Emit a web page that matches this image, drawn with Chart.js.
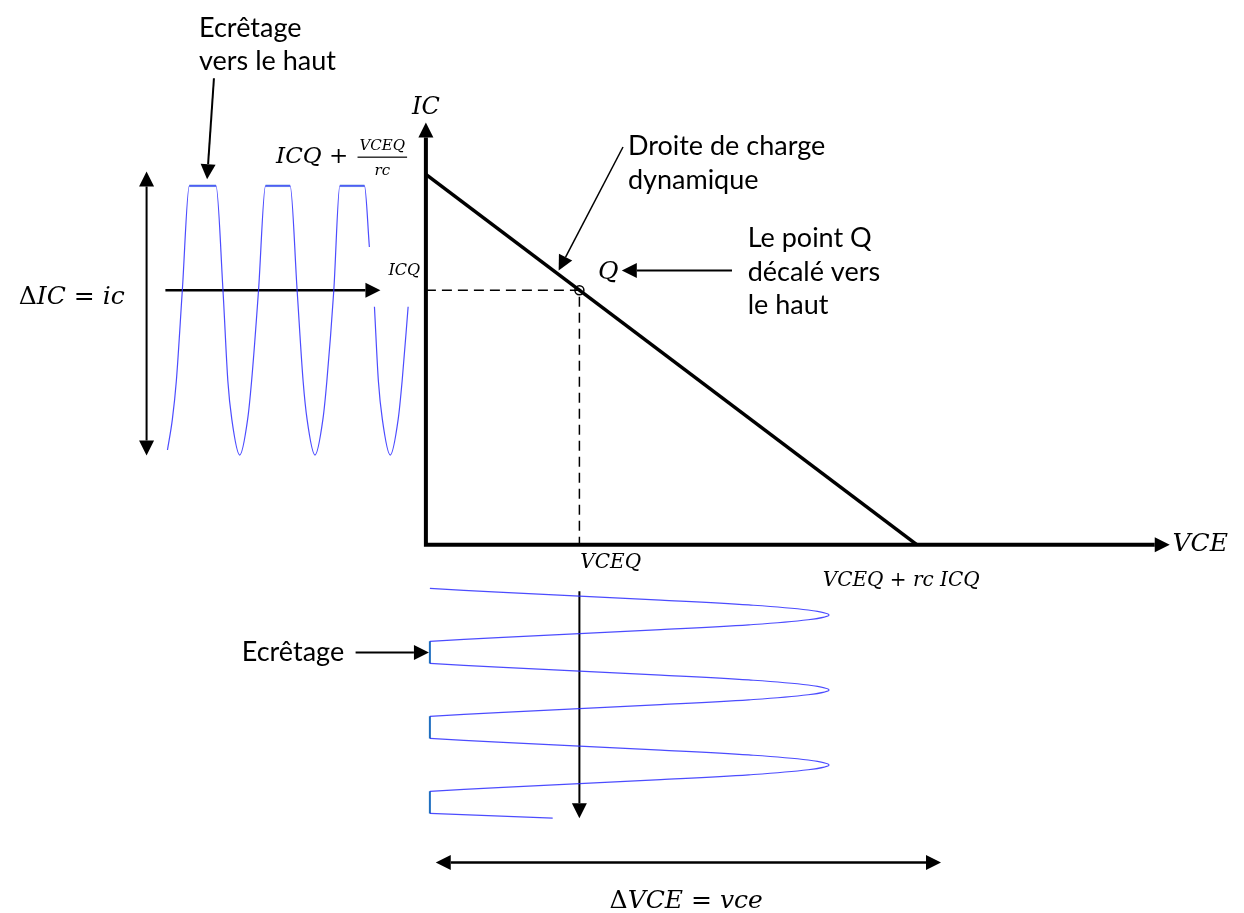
<!DOCTYPE html>
<html lang="fr">
<head>
<meta charset="utf-8">
<title>Droite de charge dynamique</title>
<script src="https://cdn.jsdelivr.net/npm/chart.js@4.4.1/dist/chart.umd.min.js"></script>
<style>
  body { margin: 0; background: #fff; }
  #cadre { width: 1244px; height: 913px; position: relative; }
</style>
</head>
<body>
<div id="cadre"><canvas id="graphe"></canvas></div>
<script>
// Point de repos et droite de charge dynamique (VCE en V, IC en mA, rc = 2,75 kOhm)
var VCEQ = 5;
var ICQ = 4;
var droiteVCE = [0, 16];      // VCEQ + rc ICQ
var droiteIC = [5.82, 0];     // ICQ + VCEQ / rc

// Courant IC en fonction du temps : écrêtage vers le haut
var tempsIC = [0.16, 0.42, 0.63, 0.95, 1.32, 2.74, 3.11, 3.37, 3.58, 4.0, 4.42, 4.63, 5.0, 5.37, 6.68, 7.05, 7.37, 7.58, 8.0, 8.42, 8.63, 9.0, 9.32, 10.63, 10.89];
var valeursIC = [1.49, 1.97, 2.57, 4.0, 5.64, 5.64, 4.0, 2.57, 1.97, 1.41, 1.97, 2.57, 4.0, 5.64, 5.64, 4.0, 2.57, 1.97, 1.41, 1.97, 2.57, 4.0, 5.64, 5.64, 4.68];
var tempsIC2 = [11.16, 11.37, 11.58, 12.0, 12.42, 12.63, 12.95];
var valeursIC2 = [3.74, 2.57, 1.97, 1.41, 1.97, 2.57, 3.74];
var paliersIC = [[1.32, 2.74], [5.37, 6.68], [9.32, 10.63]];
var niveauPalierIC = 5.64;

// Tension VCE en fonction du temps : écrêtage en bas
var vceBalayage = [0.13, 2.35, 5.0, 7.65, 10.52, 12.45, 13.13, 12.45, 10.52, 7.65, 5.0, 2.35, 0.13];
var tempsVCE1 = [-0.41, -0.21, 0, 0.21, 0.47, 0.74, 1, 1.26, 1.53, 1.79, 2, 2.21, 2.41];
var tempsVCE2 = [3.59, 3.79, 4, 4.21, 4.47, 4.74, 5, 5.26, 5.53, 5.79, 6, 6.21, 6.41];
var tempsVCE3 = [7.59, 7.79, 8, 8.21, 8.47, 8.74, 9, 9.26, 9.53, 9.79, 10, 10.21, 10.41];
var vceFin = [0.13, 4.13];
var tempsFin = [11.59, 11.84];
var paliersVCE = [[2.41, 3.59], [6.41, 7.59], [10.41, 11.59]];
var niveauPalierVCE = 0.13;

var math = '"DejaVu Serif", serif';
var sans = 'Lato, "Open Sans", sans-serif';

function points(xs, ys) {
  return xs.map(function (x, i) { return {x: x, y: ys[i]}; });
}

function trait(data, extra) {
  var ds = {
    data: data,
    showLine: true,
    borderColor: '#000',
    borderWidth: 2,
    pointRadius: 0,
    tension: 0,
    xAxisID: 'x',
    yAxisID: 'y'
  };
  for (var k in extra) ds[k] = extra[k];
  return ds;
}

var bleu = 'rgba(45,45,255,0.85)';
var datasets = [];

// axes IC et VCE
datasets.push(trait([{x: 0, y: 6.40}, {x: 0, y: 0}, {x: 23.74, y: 0}],
  {borderWidth: 4, borderJoinStyle: 'miter', fleche: {debut: true, fin: true}}));
// droite de charge
datasets.push(trait(points(droiteVCE, droiteIC), {borderWidth: 3.5}));
// pointillés du point Q
datasets.push(trait([{x: 0, y: ICQ}, {x: VCEQ, y: ICQ}, {x: VCEQ, y: 0}],
  {borderWidth: 1.5, borderDash: [10, 6]}));
// point Q
datasets.push({
  data: [{x: VCEQ, y: ICQ}], showLine: false, pointRadius: 4.5,
  pointBackgroundColor: '#fff', pointBorderColor: '#000', pointBorderWidth: 1.5,
  xAxisID: 'x', yAxisID: 'y'
});

// onde IC(t)
datasets.push(trait(points(tempsIC, valeursIC), {borderColor: bleu, borderWidth: 1.2, cubicInterpolationMode: 'monotone', xAxisID: 'xt'}));
datasets.push(trait(points(tempsIC2, valeursIC2), {borderColor: bleu, borderWidth: 1.2, cubicInterpolationMode: 'monotone', xAxisID: 'xt'}));
paliersIC.forEach(function (p) {
  datasets.push(trait(points(p, [niveauPalierIC, niveauPalierIC]), {borderColor: '#8db4e2', borderWidth: 2.5, xAxisID: 'xt'}));
});

// onde VCE(t)
[tempsVCE1, tempsVCE2, tempsVCE3].forEach(function (t) {
  datasets.push(trait(points(vceBalayage, t), {borderColor: bleu, borderWidth: 1.2, tension: 0.35, yAxisID: 'yt'}));
});
datasets.push(trait(points(vceFin, tempsFin), {borderColor: bleu, borderWidth: 1.2, yAxisID: 'yt'}));
paliersVCE.forEach(function (p) {
  datasets.push(trait(points([niveauPalierVCE, niveauPalierVCE], p), {borderColor: '#1f6fc0', borderWidth: 2, yAxisID: 'yt'}));
});

// flèches
datasets.push(trait([{x: -0.95, y: 5.63}, {x: -0.95, y: 1.64}], {xAxisID: 'xt', fleche: {debut: true, fin: true}}));
datasets.push(trait([{x: 0.05, y: ICQ}, {x: 10.68, y: ICQ}], {xAxisID: 'xt', borderWidth: 2.5, fleche: {fin: true}}));
datasets.push(trait([{x: 2.63, y: 7.33}, {x: 2.32, y: 5.98}], {xAxisID: 'xt', fleche: {fin: true}}));
datasets.push(trait([{x: 6.42, y: 6.25}, {x: 4.55, y: 4.52}], {borderWidth: 1.5, fleche: {fin: true}}));
datasets.push(trait([{x: 9.97, y: 4.31}, {x: 6.87, y: 4.31}], {fleche: {fin: true}}));
datasets.push(trait([{x: VCEQ, y: -0.26}, {x: VCEQ, y: 11.05}], {yAxisID: 'yt', fleche: {fin: true}}));
datasets.push(trait([{x: -2.29, y: 3.0}, {x: -0.39, y: 3.0}], {yAxisID: 'yt', fleche: {fin: true}}));
datasets.push(trait([{x: 0.81, y: 14.21}, {x: 16.29, y: 14.21}], {yAxisID: 'yt', borderWidth: 2.5, fleche: {debut: true, fin: true}}));

// textes (chaque entrée : morceaux [texte, police])
var it = function (s) { return 'italic ' + s + 'px ' + math; };
var dr = function (s) { return s + 'px ' + math; };
var sa = function (s) { return s + 'px ' + sans; };
var textes = [
  {p: [['Ecrêtage', sa(27)]], x: -7.39, y: 8.12},
  {p: [['vers le haut', sa(27)]], x: -7.39, y: 7.60},
  {p: [['IC', it(24)]], x: 0, y: 6.87, align: 'center'},
  {p: [['ICQ', it(16)]], x: -0.19, y: 4.31, align: 'right'},
  {p: [['Q', it(25)]], x: 5.94, y: 4.28, align: 'center'},
  {p: [['Droite de charge', sa(27)]], x: 6.58, y: 6.26},
  {p: [['dynamique', sa(27)]], x: 6.58, y: 5.72},
  {p: [['Le point Q', sa(27)]], x: 10.48, y: 4.81},
  {p: [['décalé vers', sa(27)]], x: 10.48, y: 4.28},
  {p: [['le haut', sa(27)]], x: 10.48, y: 3.77},
  {p: [['VCE', it(25)]], x: 24.32, y: 0},
  {p: [['VCEQ', it(20)]], x: 5.03, y: -0.29},
  {p: [['VCEQ + rc ICQ', it(20)]], x: 15.48, y: -0.57, align: 'center'},
  {p: [['Δ', dr(25)], ['IC = ic', it(25)]], x: -13.26, y: 3.89},
  {p: [['Ecrêtage', sa(27)]], x: -6.0, y: 3.0, ys: 'yt'},
  {p: [['Δ', dr(25)], ['VCE = vce', it(25)]], x: 8.48, y: 16.26, ys: 'yt', align: 'center'}
];
var fraction = {avant: 'ICQ + ', haut: 'VCEQ', bas: 'rc', x: -1.42, y: 6.09};

function tete(ctx, a, b, L, W) {
  var ang = Math.atan2(b.y - a.y, b.x - a.x);
  ctx.save();
  ctx.translate(b.x, b.y);
  ctx.rotate(ang);
  ctx.beginPath();
  ctx.moveTo(L, 0);
  ctx.lineTo(0, -W);
  ctx.lineTo(0, W);
  ctx.closePath();
  ctx.fillStyle = '#000';
  ctx.fill();
  ctx.restore();
}

var pluginFleches = {
  id: 'fleches',
  afterDatasetsDraw: function (chart) {
    var ctx = chart.ctx;
    chart.data.datasets.forEach(function (ds, i) {
      if (!ds.fleche) return;
      var pts = chart.getDatasetMeta(i).data;
      var n = pts.length;
      if (ds.fleche.fin) tete(ctx, pts[n - 2], pts[n - 1], 15, 7.5);
      if (ds.fleche.debut) tete(ctx, pts[1], pts[0], 15, 7.5);
    });
  }
};

var pluginTextes = {
  id: 'textes',
  afterDraw: function (chart) {
    var ctx = chart.ctx;
    ctx.save();
    ctx.fillStyle = '#000';
    ctx.textBaseline = 'middle';
    ctx.textAlign = 'left';
    textes.forEach(function (e) {
      var px = chart.scales[e.xs || 'x'].getPixelForValue(e.x);
      var py = chart.scales[e.ys || 'y'].getPixelForValue(e.y);
      var total = 0;
      e.p.forEach(function (m) { ctx.font = m[1]; total += ctx.measureText(m[0]).width; });
      if (e.align === 'center') px -= total / 2;
      if (e.align === 'right') px -= total;
      e.p.forEach(function (m) {
        ctx.font = m[1];
        ctx.fillText(m[0], px, py);
        px += ctx.measureText(m[0]).width;
      });
    });
    // ICQ + VCEQ / rc
    var cx = chart.scales.x.getPixelForValue(fraction.x);
    var cy = chart.scales.y.getPixelForValue(fraction.y);
    ctx.font = it(15);
    var w = ctx.measureText(fraction.haut).width + 4;
    ctx.textAlign = 'center';
    ctx.fillText(fraction.haut, cx, cy - 11);
    ctx.fillText(fraction.bas, cx, cy + 14);
    ctx.fillRect(cx - w / 2, cy - 0.6, w, 1.2);
    ctx.font = it(23);
    ctx.textAlign = 'right';
    ctx.fillText(fraction.avant, cx - w / 2 - 2, cy);
    ctx.restore();
  }
};

new Chart(document.getElementById('graphe'), {
  type: 'scatter',
  data: {datasets: datasets},
  options: {
    responsive: true,
    maintainAspectRatio: false,
    animation: false,
    events: [],
    layout: {padding: 0},
    plugins: {legend: {display: false}, tooltip: {enabled: false}},
    scales: {
      x: {type: 'linear', display: false, min: -13.677, max: 26.452},
      y: {type: 'linear', display: false, min: -5.690, max: 8.465},
      xt: {type: 'linear', display: false, position: 'bottom', min: -8.421, max: 57.053},
      yt: {type: 'linear', display: false, position: 'left', reverse: true, min: -31.474, max: 16.579}
    }
  },
  plugins: [pluginFleches, pluginTextes]
});
</script>
</body>
</html>
